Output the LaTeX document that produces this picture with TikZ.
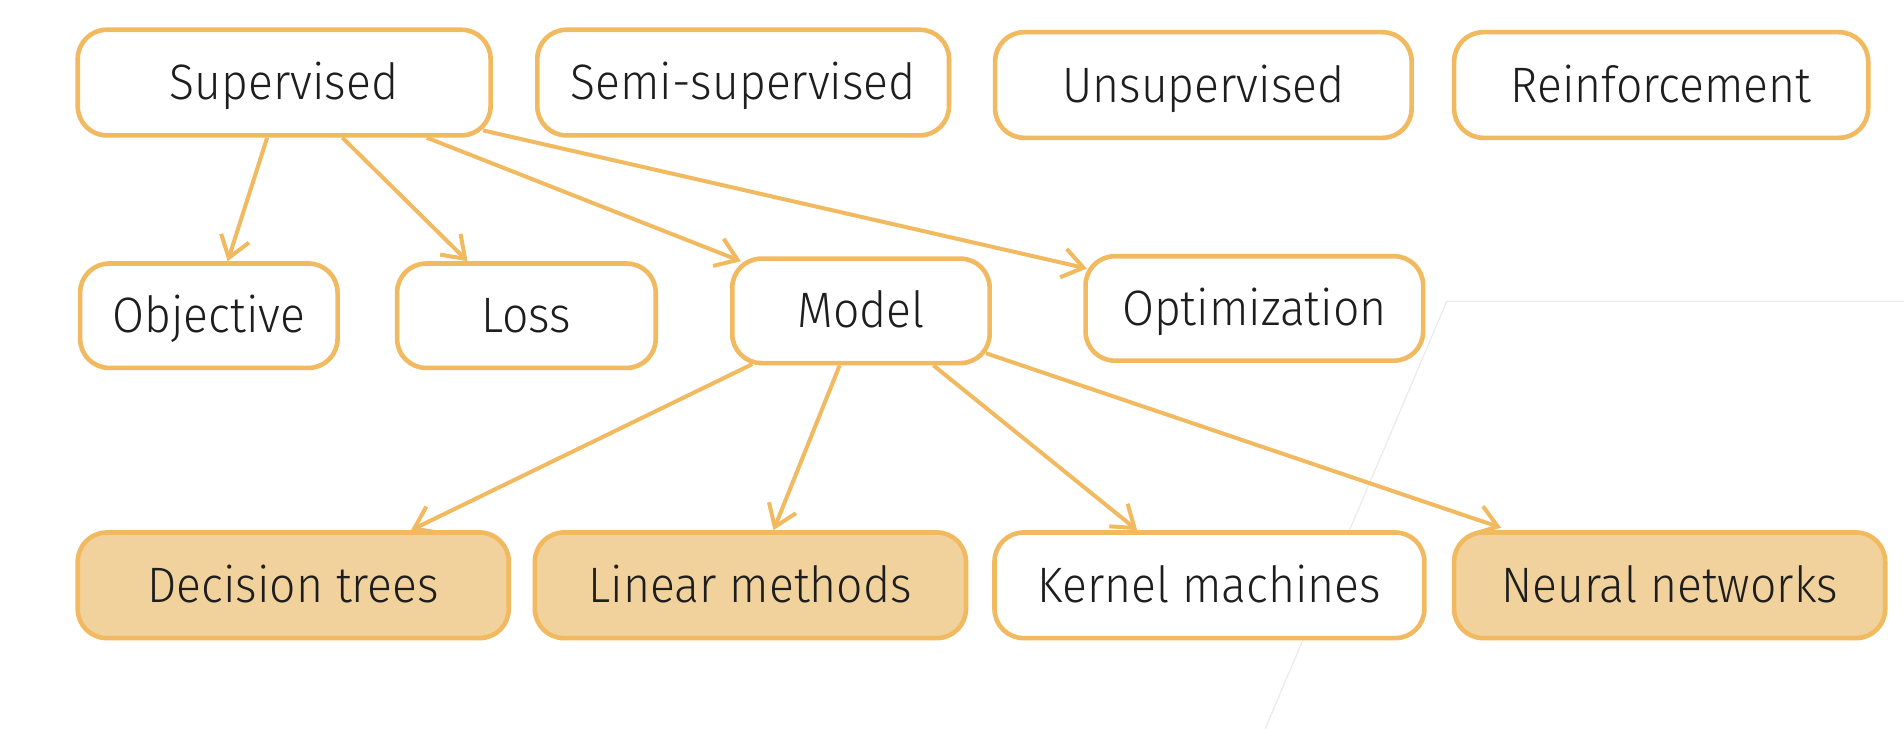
\documentclass[tikz,border=0pt]{standalone}
\usepackage{fontspec}
\setmainfont{Fira Sans}[UprightFont=* Light, FakeStretch=0.93]
\usetikzlibrary{arrows.meta,calc}
\definecolor{edge}{HTML}{F2BA60}
\definecolor{hl}{HTML}{F2D29C}
\definecolor{ink}{HTML}{1E1E1E}
\definecolor{faint}{HTML}{EBEBEB}
\begin{document}
\begin{tikzpicture}[x=1pt,y=-1pt,
  box/.style={draw=edge, line width=3.8pt, rounded corners=24pt, fill=white, inner sep=0pt, text=ink, font=\fontsize{41}{49}\selectfont, text height=28pt, text depth=0pt},
  hlbox/.style={box, fill=hl},
  arr/.style={draw=edge, line width=3.3pt, -{Straight Barb[length=17pt,width=24pt]}}]
\useasboundingbox (0,0) rectangle (1568,600);
\fill[white] (0,0) rectangle (1568,600);
\draw[faint, line width=1pt] (1568,248) -- (1191.5,248) -- (1042,600);
% top row
\node[box, minimum width=340pt, minimum height=87pt] (sup) at (234,68) {Supervised};
\node[box, minimum width=339pt, minimum height=87pt] (semi) at (612,68) {Semi-supervised};
\node[box, minimum width=343pt, minimum height=87pt] (unsup) at (991,70) {Unsupervised};
\node[box, minimum width=341pt, minimum height=87pt] (rein) at (1368,70) {Reinforcement};
% middle row
\node[box, minimum width=212pt, minimum height=86pt] (obj) at (172,260) {Objective};
\node[box, minimum width=213pt, minimum height=86pt] (loss) at (433.5,260) {Loss};
\node[box, minimum width=212pt, minimum height=86pt] (mod) at (709,256) {Model};
\node[box, minimum width=278pt, minimum height=86pt] (opt) at (1033,254) {Optimization};
% bottom row
\node[hlbox, minimum width=355pt, minimum height=87pt] (dt) at (241.5,482) {Decision trees};
\node[hlbox, minimum width=355pt, minimum height=87pt] (lin) at (618,482) {Linear methods};
\node[box, minimum width=354pt, minimum height=87pt] (ker) at (996,482) {Kernel machines};
\node[hlbox, minimum width=355pt, minimum height=87pt] (neu) at (1375,482) {Neural networks};
% connectors
\draw[arr] ($(sup.south)+(-14,0)$) -- ($(obj.north)+(15.5,0)$);
\draw[arr] ($(sup.south)+(48,0)$) -- ($(loss.north)+(-48.5,0)$);
\draw[arr] ($(sup.south)+(117.5,0)$) -- ($(mod.north west)+(9,4)$);
\draw[arr] ($(sup.south east)+(-8,-6)$) -- ($(opt.north west)+(3,12)$);
\draw[arr] ($(mod.south west)+(18.5,-1)$) -- ($(dt.north)+(97,0)$);
\draw[arr] ($(mod.south)+(-17.5,0)$) -- ($(lin.north)+(19,0)$);
\draw[arr] ($(mod.south)+(59.7,0)$) -- ($(ker.north)+(-59.5,0)$);
\draw[arr] ($(mod.south east)+(-5,-10)$) -- ($(neu.north west)+(40.6,-2)$);
\end{tikzpicture}
\end{document}
